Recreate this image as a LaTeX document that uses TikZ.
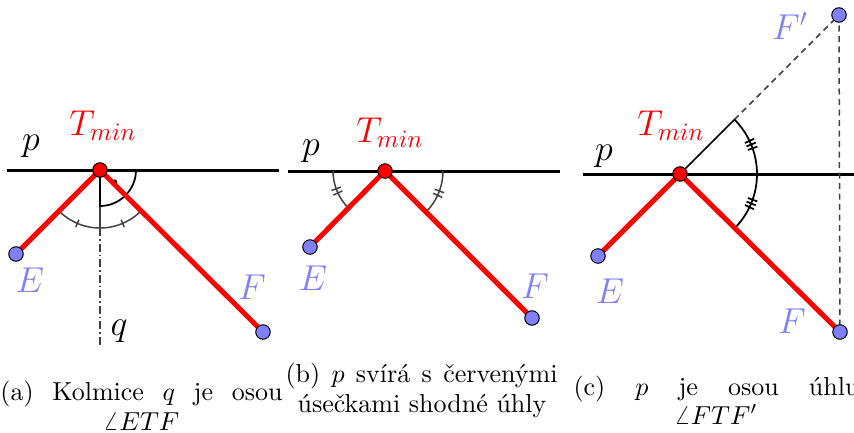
\RequirePackage{fix-cm}
\documentclass[tikz,border=0pt]{standalone}
\usetikzlibrary{backgrounds}
\definecolor{ptblue}{RGB}{128,128,255}
\definecolor{dgray}{RGB}{64,64,64}
\begin{document}
\begin{tikzpicture}[x=0.4pt,y=-0.4pt,
  pline/.style={line width=1.2pt, black},
  seg/.style={line width=2pt, red},
  pt/.style={circle, draw=black, line width=0.4pt, fill=ptblue, minimum size=5.8pt, inner sep=0pt},
  tpt/.style={pt, fill=red},
  lbl/.style={font=\Large, inner sep=0pt, anchor=base},
  angarc/.style={dgray, line width=0.6pt},
  blkarc/.style={black, line width=0.7pt},
  dashline/.style={dgray, line width=0.6pt, dash pattern=on 2.4pt off 1.8pt},
  dashdot/.style={dgray, line width=0.6pt, dash pattern=on 3.2pt off 1.2pt on 0.6pt off 1.2pt},
  capt/.style={font=\fontsize{10.4}{12}\selectfont, inner sep=0pt}]
\useasboundingbox (0,0) rectangle (854,433);

% ---------------- panel (a)
\node[tpt] (Ta) at (100,170) {};
\node[pt] (Ea) at (16,254) {};
\node[pt] (Fa) at (263,332) {};
\coordinate (pa1) at (7,170);
\coordinate (pa2) at (279,170);
\coordinate (qa) at (100,346);
\begin{scope}[on background layer]
  \draw[pline] (pa1) -- (pa2);
  \draw[angarc] (Ta.center) -- ++(90:58);
  \draw[dashdot] (Ta.center) ++(90:58) -- (qa);
  \draw[blkarc] (Ta.center) -- ++(90:36) arc[start angle=90, end angle=0, radius=36];
  \fill (Ta.center) ++(40:19) circle[radius=1.1pt];
  \draw[angarc] (Ta.center) ++(44.8:58) arc[start angle=44.8, end angle=135, radius=58];
  \draw[angarc] (Ta.center) ++(67:54) -- ++(67:8);
  \draw[angarc] (Ta.center) ++(113:54) -- ++(113:8);
  \draw[seg] (Ea.center) -- (Ta.center) -- (Fa.center);
\end{scope}
\node[lbl] (pla) at (31,150) {$p$};
\node[lbl, red] (tla) at (103,135) {$T_{min}$};
\node[lbl, ptblue] (ela) at (30,292) {$E$};
\node[lbl, ptblue] (fla) at (252,299) {$F$};
\node[lbl] (qla) at (119,335) {$q$};

% ---------------- panel (b)
\node[tpt] (Tb) at (385,171) {};
\node[pt] (Eb) at (310,247) {};
\node[pt] (Fb) at (532,318) {};
\coordinate (pb1) at (288,171);
\coordinate (pb2) at (560,171);
\begin{scope}[on background layer]
  \draw[pline] (pb1) -- (pb2);
  \draw[angarc] (Tb.center) ++(134.6:52) arc[start angle=134.6, end angle=180, radius=52];
  \draw[angarc] (Tb.center) ++(0:58) arc[start angle=0, end angle=45, radius=58];
  \foreach \a in {155,160}{\draw[angarc] (Tb.center) ++(\a:47) -- ++(\a:10);}
  \foreach \a in {20.2,24.8}{\draw[angarc] (Tb.center) ++(\a:53) -- ++(\a:10);}
  \draw[seg] (Eb.center) -- (Tb.center) -- (Fb.center);
\end{scope}
\node[lbl] (plb) at (311,155) {$p$};
\node[lbl, red] (tlb) at (390,142) {$T_{min}$};
\node[lbl, ptblue] (elb) at (313,290) {$E$};
\node[lbl, ptblue] (flb) at (535,298) {$F$};

% ---------------- panel (c)
\node[tpt] (Tc) at (680,174) {};
\node[pt] (Ec) at (598,256) {};
\node[pt] (Fc) at (840,332) {};
\node[pt] (Fpc) at (839,15) {};
\coordinate (pc1) at (583,174);
\coordinate (pc2) at (860,174);
\begin{scope}[on background layer]
  \draw[pline] (pc1) -- (pc2);
  \draw[dashline] (Fpc.center) -- (Fc.center);
  \draw[blkarc] (Tc.center) -- ++(-45:77) coordinate (Kc);
  \draw[dashline] (Kc) -- (Fpc.center);
  \draw[blkarc] (Kc) arc[start angle=-45, end angle=44.6, radius=77];
  \foreach \a in {-25.5,-22.5,-19.5,19.5,22.5,25.5}{\draw[blkarc] (Tc.center) ++(\a:72) -- ++(\a:10);}
  \draw[seg] (Ec.center) -- (Tc.center) -- (Fc.center);
\end{scope}
\node[lbl] (plc) at (604,160) {$p$};
\node[lbl, red] (tlc) at (671,135) {$T_{min}$};
\node[lbl, ptblue] (elc) at (610,303) {$E$};
\node[lbl, ptblue] (flc) at (792,333) {$F$};
\node[lbl, ptblue] (fplc) at (790,40) {$F'$};

% ---------------- captions
\node[capt, anchor=base west] (capa1) at (0,400) {\makebox[112.8pt][s]{(a) Kolmice $q$ je osou}};
\node[capt, anchor=base] (capa2) at (141,430) {$\angle ETF$};
\node[capt, anchor=base west] (capb1) at (285,382) {\makebox[108.8pt][s]{(b) $p$ svírá s červenými}};
\node[capt, anchor=base] (capb2) at (422,412) {úsečkami shodné úhly};
\node[capt, anchor=base west] (capc1) at (573,395) {\makebox[114.4pt][s]{(c) $p$ je osou úhlu}};
\node[capt, anchor=base] (capc2) at (716,424) {$\angle FTF'$};
\end{tikzpicture}
\end{document}
